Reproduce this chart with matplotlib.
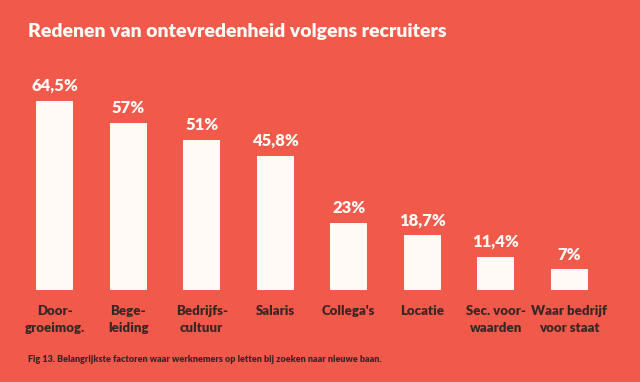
import matplotlib
matplotlib.use("Agg")
import matplotlib.pyplot as plt

categories = ["Door-\ngroeimog.", "Bege-\nleiding", "Bedrijfs-\ncultuur", "Salaris",
              "Collega's", "Locatie", "Sec. voor-\nwaarden", "Waar bedrijf\nvoor staat"]
values = [64.5, 57, 51, 45.8, 23, 18.7, 11.4, 7]
value_labels = ["64,5%", "57%", "51%", "45,8%", "23%", "18,7%", "11,4%", "7%"]

bg = "#F1594A"
bar_col = "#FFFAF6"
dark = "#3A2624"
plt.rcParams['font.family'] = ['Lato', 'DejaVu Sans']

fig = plt.figure(figsize=(6.4, 3.82), dpi=100, facecolor=bg)
ax = fig.add_axes([18/640, (382-290)/382, (606-18)/640, 220/382])
ax.set_facecolor(bg)

x = range(len(values))
ax.bar(x, values, width=0.5, color=bar_col)
for i, (v, lab) in enumerate(zip(values, value_labels)):
    ax.annotate(lab, (i, v), xytext=(0, 5), textcoords='offset points',
                ha='center', va='bottom', color=bar_col, fontsize=12, fontweight='heavy')
    ax.annotate(categories[i], (i, 0), xytext=(0, -11), textcoords='offset points',
                ha='center', va='top', color=dark, fontsize=9.5, fontweight='heavy',
                linespacing=1.45)

ax.set_xlim(-0.5, 7.5)
ax.set_ylim(0, 75)
ax.axis('off')

fig.text(28/640, 1 - 32/382, "Redenen van ontevredenheid volgens recruiters",
         color=bar_col, fontsize=14, fontweight='heavy', va='center', ha='left')
fig.text(28/640, 1 - 360/382,
         "Fig 13. Belangrijkste factoren waar werknemers op letten bij zoeken naar nieuwe baan.",
         color=dark, fontsize=6.5, fontweight='heavy', va='center', ha='left')

fig.savefig("out.png", dpi=100, facecolor=bg)
